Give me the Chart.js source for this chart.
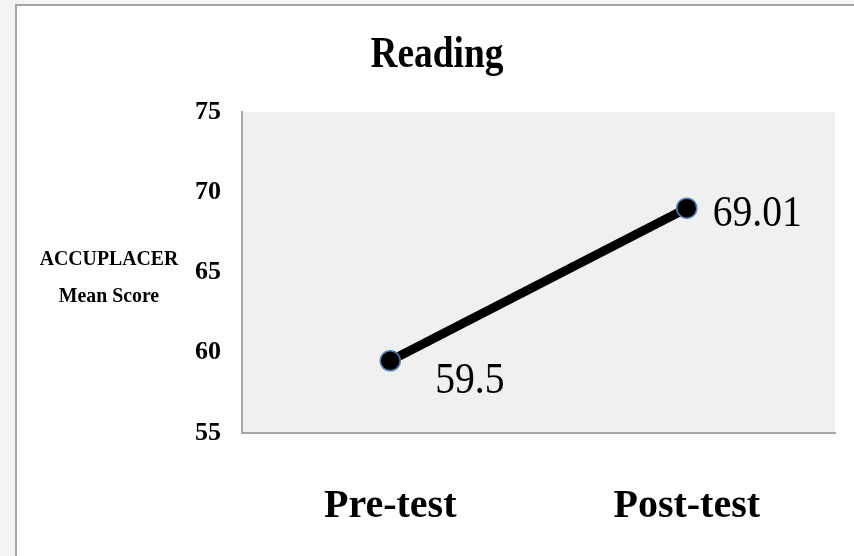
<!DOCTYPE html>
<html>
<head>
<meta charset="utf-8">
<script src="https://cdn.jsdelivr.net/npm/chart.js@4/dist/chart.umd.min.js"></script>
<style>
  html, body { margin: 0; padding: 0; background: #fff; }
  #wrap { width: 854px; height: 556px; position: relative; }
</style>
</head>
<body>
<div id="wrap"><canvas id="readingChart" width="854" height="556"></canvas></div>
<script>
// données
const categories = ['Pre-test', 'Post-test'];
const meanScores = [59.5, 69.01];
const scoreLabels = ['59.5', '69.01'];
const yTicks = [55, 60, 65, 70, 75];

const serif = '"Liberation Serif", "DejaVu Serif", serif';

// texte un peu resserré (la police d'origine est étroite)
function narrowText(ctx, text, x, y, sx) {
    ctx.save();
    ctx.translate(x, y);
    ctx.scale(sx, 1);
    ctx.fillText(text, 0, 0);
    ctx.restore();
}

// fond gris de la zone, cadre, titre et titre d'axe horizontal
const decor = {
    id: 'decor',
    beforeDraw(chart) {
        const { ctx, chartArea: a } = chart;
        ctx.save();
        // bande à gauche + cadre
        ctx.fillStyle = '#f4f4f4';
        ctx.fillRect(0, 0, 15, chart.height);
        ctx.fillRect(0, 0, chart.width, 4);
        ctx.strokeStyle = '#a6a6a6';
        ctx.lineWidth = 2;
        ctx.beginPath();
        ctx.moveTo(16, chart.height);
        ctx.lineTo(16, 5);
        ctx.lineTo(chart.width, 5);
        ctx.stroke();
        // zone de tracé
        ctx.fillStyle = '#f0f0f0';
        ctx.fillRect(a.left, a.top, a.right - a.left, a.bottom - a.top);
        ctx.restore();
    },
    afterDraw(chart) {
        const { ctx } = chart;
        ctx.save();
        ctx.fillStyle = '#000';
        ctx.textAlign = 'center';
        ctx.textBaseline = 'middle';
        ctx.font = 'bold 44px ' + serif;
        narrowText(ctx, 'Reading', 437, 56, 0.85);
        ctx.font = 'bold 22px ' + serif;
        narrowText(ctx, 'ACCUPLACER', 109, 259, 0.9);
        narrowText(ctx, 'Mean Score', 109, 296, 0.9);

        // étiquettes des valeurs
        const meta = chart.getDatasetMeta(0);
        const offsets = [[45, 21], [26, 6]];
        ctx.font = '44px ' + serif;
        ctx.textAlign = 'left';
        meta.data.forEach((pt, i) => {
            narrowText(ctx, scoreLabels[i], pt.x + offsets[i][0], pt.y + offsets[i][1], 0.9);
        });
        ctx.restore();
    },
};

const canvas = document.querySelector('#readingChart');

if (canvas && typeof Chart !== 'undefined') {
    const readingChart = new Chart(canvas, {
        type: 'line',
        data: {
            labels: categories,
            datasets: [
                {
                    label: 'Reading',
                    data: meanScores,
                    borderColor: '#000',
                    borderWidth: 9,
                    pointRadius: 10,
                    pointHoverRadius: 10,
                    pointBackgroundColor: '#000',
                    pointBorderColor: '#4f81bd',
                    pointBorderWidth: 1.5,
                    tension: 0,
                },
            ],
        },
        options: {
            responsive: false,
            animation: false,
            events: [],
            layout: { padding: { left: 15, top: 112, right: 19, bottom: 0 } },
            scales: {
                x: {
                    offset: true,
                    grid: { display: false, drawTicks: false },
                    border: { display: true, color: '#a6a6a6', width: 2 },
                    ticks: { color: '#000', padding: 50, font: { family: serif, size: 40, weight: 'bold' } },
                    afterFit(scale) { scale.height = 123; },
                },
                y: {
                    min: 55,
                    max: 75,
                    afterBuildTicks(scale) { scale.ticks = yTicks.map(v => ({ value: v })); },
                    grid: { display: false, drawTicks: false },
                    border: { display: true, color: '#a6a6a6', width: 2 },
                    ticks: { color: '#000', padding: 21, font: { family: serif, size: 26, weight: 'bold' } },
                    afterFit(scale) { scale.width = 227; },
                },
            },
            plugins: {
                legend: { display: false },
                tooltip: { enabled: false },
            },
        },
        plugins: [decor],
    });
}
</script>
</body>
</html>
